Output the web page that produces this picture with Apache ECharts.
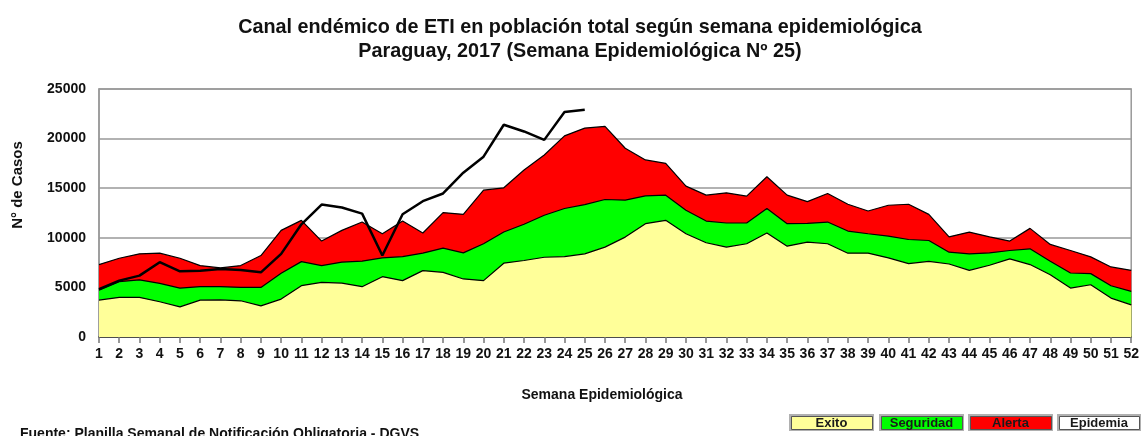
<!DOCTYPE html>
<html>
<head>
<meta charset="utf-8">
<script src="https://cdn.jsdelivr.net/npm/echarts@6/dist/echarts.min.js"></script>
<style>
html,body{margin:0;padding:0;background:#fff;}
#chart{width:1142px;height:436px;}
</style>
</head>
<body>
<div id="chart"></div>
<script>
var weeks = [];
for (var i = 1; i <= 52; i++) weeks.push(String(i));

var exito = [3720,3990,3990,3550,3040,3720,3750,3650,3140,3820,5170,5510,5440,5070,6080,5680,6690,6520,5850,5680,
  7440,7710,8040,8110,8380,9060,10070,11420,11760,10410,9500,9060,9400,10480,9160,9570,9400,8450,8450,7970,
  7400,7630,7360,6720,7230,7870,7300,6280,4930,5270,3920,3240];
var seguridad = [4730,5580,5750,5410,4930,5070,5070,5000,5000,6420,7600,7200,7540,7640,7980,8110,8450,8960,8480,9400,
  10580,11360,12270,12950,13350,13860,13790,14230,14300,12780,11690,11490,11490,12950,11420,11450,11590,10680,10410,10170,
  9830,9730,8550,8380,8480,8720,8890,7640,6450,6390,5170,4600];
var alerta = [7300,7940,8380,8450,7940,7200,6960,7200,8210,10750,11760,9670,10750,11590,10410,11690,10480,12540,12370,14800,
  15040,16830,18350,20280,21060,21230,19030,17850,17510,15210,14300,14530,14200,16160,14300,13650,14460,13380,12700,13280,
  13380,12360,10100,10580,10100,9670,10950,9330,8720,8080,7060,6720];
var epidemia = [4830,5680,6190,7540,6620,6690,6860,6760,6520,8380,11360,13350,13050,12440,8210,12370,13690,14470,16560,18180,
  21400,20720,19870,22680,22920];
var yTicks = [0,5000,10000,15000,20000,25000];

var titleLines = ['Canal endémico de ETI en población total según semana epidemiológica',
                  'Paraguay, 2017 (Semana Epidemiológica Nº 25)'];
var legendNames = ['Exito','Seguridad','Alerta','Epidemia'];
var legendColors = ['#ffff99','#00ff00','#ff0000','#ffffff'];

var FONT = '"Liberation Sans", Arial, sans-serif';
var chart = echarts.init(document.getElementById('chart'), null, {renderer:'canvas'});

function areaSeries(name, data, color) {
  return {
    name: name, type: 'line', data: data, symbol: 'none', smooth: false,
    lineStyle: {color: '#000', width: 1.2},
    areaStyle: {color: color, opacity: 1},
    silent: true, animation: false
  };
}

var legendGraphics = [];
var lx = [789, 879, 968, 1057];
var lw = [85, 85, 85, 84];
for (var k = 0; k < legendNames.length; k++) {
  legendGraphics.push({type:'rect', left: lx[k], top: 414, shape:{width: lw[k], height: 17}, style:{fill:'#b0b0b0'}, silent:true});
  legendGraphics.push({type:'rect', left: lx[k]+2, top: 416, shape:{width: lw[k]-4, height: 13}, style:{fill: legendColors[k], stroke:'#555', lineWidth:1}, silent:true});
  legendGraphics.push({type:'text', x: lx[k] + lw[k]/2, y: 423, style:{text: legendNames[k], fill:'#1a1a1a', font:'bold 13px '+FONT, textAlign:'center', textVerticalAlign:'middle'}, silent:true});
}

var option = {
  backgroundColor: '#fff',
  animation: false,
  title: {
    text: titleLines.join('\n'),
    left: 575, top: 11, textAlign: 'center',
    textStyle: {fontFamily: FONT, fontWeight: 'bold', fontSize: 19.8, color: '#111', lineHeight: 24}
  },
  grid: {left: 99, right: 10, top: 89, bottom: 99, show: true, borderColor: '#999', borderWidth: 1.5, backgroundColor: 'transparent'},
  xAxis: {
    type: 'category', data: weeks, boundaryGap: false,
    axisLine: {show: true, lineStyle: {color: '#333', width: 1.5}},
    axisTick: {show: true, interval: 0, length: 6, lineStyle: {color: '#777', width: 1.5}},
    axisLabel: {interval: 0, margin: 10, color: '#111', fontFamily: FONT, fontWeight: 'bold', fontSize: 14},
    splitLine: {show: false}
  },
  yAxis: {
    type: 'value', min: yTicks[0], max: yTicks[yTicks.length-1], interval: 5000,
    axisLine: {show: true, lineStyle: {color: '#999', width: 1.5}},
    axisTick: {show: false},
    axisLabel: {margin: 13, color: '#111', fontFamily: FONT, fontWeight: 'bold', fontSize: 14,
                formatter: function (v) { return String(v); }},
    splitLine: {show: true, lineStyle: {color: '#999', width: 1.5}}
  },
  graphic: [
    {type:'text', x: 18, y: 185, rotation: Math.PI/2, style:{text:'N° de Casos', fill:'#111', font:'bold 15px '+FONT, textAlign:'center', textVerticalAlign:'middle'}, silent:true},
    {type:'text', x: 602, y: 395, style:{text:'Semana Epidemiológica', fill:'#111', font:'bold 14px '+FONT, textAlign:'center', textVerticalAlign:'middle'}, silent:true},
    {type:'text', x: 20, y: 434, style:{text:'Fuente: Planilla Semanal de Notificación Obligatoria - DGVS', fill:'#111', font:'bold 14px '+FONT, textAlign:'left', textVerticalAlign:'middle'}, silent:true}
  ].concat(legendGraphics),
  series: [
    areaSeries('Alerta', alerta, '#ff0000'),
    areaSeries('Seguridad', seguridad, '#00ff00'),
    areaSeries('Exito', exito, '#ffff99'),
    {name:'Epidemia', type:'line', data: epidemia, symbol:'none', smooth:false,
     lineStyle:{color:'#000', width:2.5}, silent:true, animation:false, z: 5}
  ]
};
chart.setOption(option);
</script>
</body>
</html>
